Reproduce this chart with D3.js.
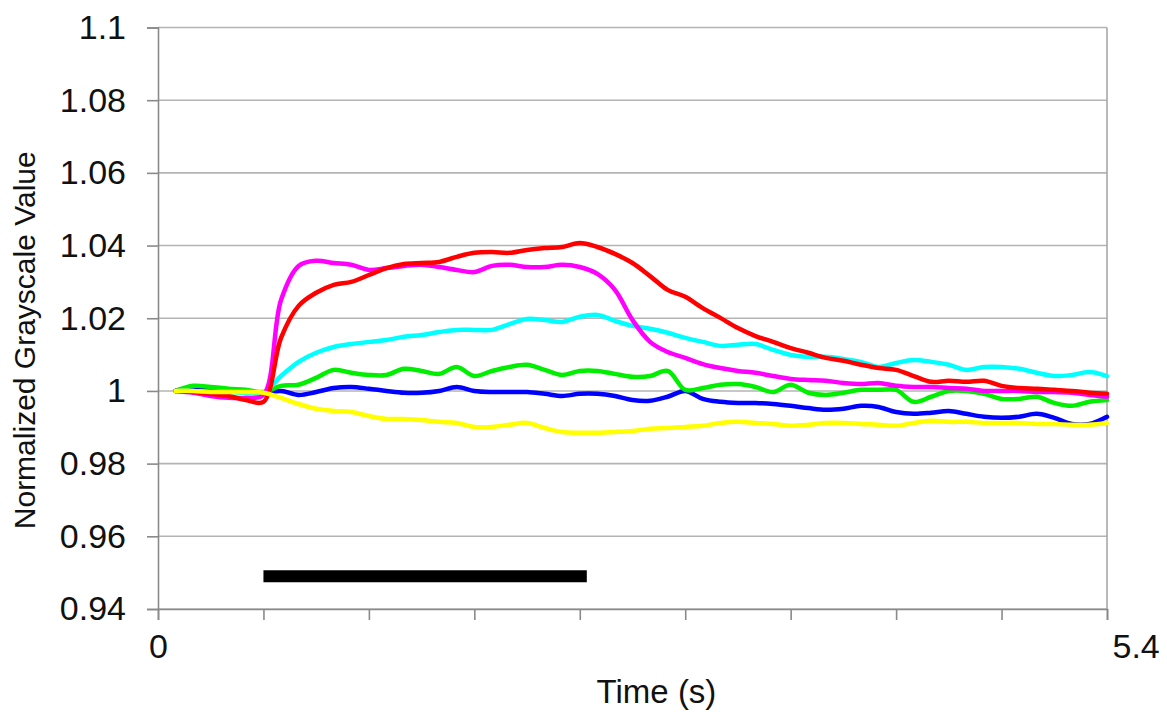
<!DOCTYPE html>
<html>
<head>
<meta charset="utf-8">
<script src="https://cdn.jsdelivr.net/npm/d3@7"></script>
<style>
  html, body { margin: 0; padding: 0; background: #fff; }
  svg { display: block; }
  text { font-family: "Liberation Sans", Arial, Helvetica, sans-serif; fill: #111; }
</style>
</head>
<body>
<svg id="chart" width="1167" height="715"></svg>
<script>
// Sample times (s)
const time = d3.range(1, 55).map(i => +(i * 0.1).toFixed(1));

// Normalized grayscale traces, one value per sample time
const redValues = [1.0000,0.9997,0.9992,0.9986,0.9975,0.9970,1.0146,1.0234,1.0270,1.0292,
  1.0300,1.0319,1.0338,1.0349,1.0352,1.0355,1.0369,1.0380,1.0382,1.0380,
  1.0388,1.0393,1.0396,1.0407,1.0396,1.0377,1.0352,1.0316,1.0278,1.0259,
  1.0228,1.0201,1.0173,1.0151,1.0135,1.0118,1.0105,1.0091,1.0083,1.0072,
  1.0063,1.0058,1.0041,1.0025,1.0028,1.0025,1.0028,1.0014,1.0008,1.0006,
  1.0003,1.0000,0.9995,0.9992];
const magentaValues = [1.0000,0.9995,0.9986,0.9981,0.9981,0.9989,1.0250,1.0344,1.0358,1.0352,
  1.0347,1.0333,1.0338,1.0344,1.0347,1.0341,1.0333,1.0327,1.0344,1.0347,
  1.0341,1.0341,1.0347,1.0341,1.0322,1.0278,1.0195,1.0135,1.0107,1.0091,
  1.0074,1.0063,1.0055,1.0050,1.0041,1.0033,1.0030,1.0028,1.0022,1.0019,
  1.0022,1.0014,1.0011,1.0011,1.0008,1.0006,1.0000,1.0000,1.0000,0.9997,
  0.9997,0.9995,0.9989,0.9984];
const cyanValues = [1.0000,1.0000,0.9997,0.9997,0.9995,0.9995,1.0041,1.0080,1.0105,1.0121,
  1.0129,1.0135,1.0140,1.0149,1.0154,1.0162,1.0168,1.0168,1.0168,1.0184,
  1.0198,1.0195,1.0190,1.0204,1.0209,1.0193,1.0179,1.0171,1.0160,1.0146,
  1.0135,1.0124,1.0127,1.0129,1.0113,1.0099,1.0094,1.0094,1.0088,1.0080,
  1.0066,1.0077,1.0085,1.0080,1.0072,1.0058,1.0066,1.0066,1.0061,1.0050,
  1.0041,1.0044,1.0052,1.0041];
const greenValues = [1.0000,1.0014,1.0011,1.0006,1.0003,0.9997,1.0014,1.0017,1.0036,1.0058,
  1.0050,1.0044,1.0044,1.0061,1.0055,1.0047,1.0066,1.0041,1.0055,1.0066,
  1.0072,1.0058,1.0044,1.0055,1.0055,1.0047,1.0039,1.0041,1.0055,1.0003,
  1.0008,1.0017,1.0019,1.0011,0.9997,1.0017,0.9995,0.9989,0.9995,1.0003,
  1.0003,1.0003,0.9970,0.9984,1.0000,1.0000,0.9992,0.9978,0.9978,0.9984,
  0.9967,0.9959,0.9970,0.9975];
const blueValues = [1.0000,1.0011,1.0006,1.0000,0.9997,0.9995,1.0000,0.9989,0.9997,1.0008,
  1.0011,1.0006,1.0000,0.9995,0.9995,1.0000,1.0011,1.0000,0.9997,0.9997,
  0.9997,0.9992,0.9986,0.9992,0.9992,0.9986,0.9975,0.9973,0.9984,1.0000,
  0.9978,0.9970,0.9967,0.9967,0.9964,0.9959,0.9953,0.9948,0.9951,0.9959,
  0.9956,0.9942,0.9937,0.9940,0.9945,0.9937,0.9929,0.9926,0.9929,0.9937,
  0.9926,0.9909,0.9909,0.9929];
const yellowValues = [1.0000,1.0000,0.9997,0.9997,0.9997,0.9995,0.9981,0.9964,0.9951,0.9945,
  0.9942,0.9931,0.9923,0.9923,0.9920,0.9915,0.9912,0.9901,0.9901,0.9907,
  0.9912,0.9898,0.9887,0.9885,0.9885,0.9887,0.9890,0.9896,0.9898,0.9901,
  0.9904,0.9912,0.9915,0.9912,0.9909,0.9904,0.9907,0.9912,0.9912,0.9909,
  0.9907,0.9904,0.9912,0.9918,0.9915,0.9915,0.9912,0.9912,0.9912,0.9909,
  0.9909,0.9907,0.9907,0.9912];

// Stimulus period (s) and the level at which its bar is drawn
const stimulusPeriod = [0.6, 2.44];
const stimulusLevel = 0.949;

// Axis ticks
const yTicks = [0.94, 0.96, 0.98, 1, 1.02, 1.04, 1.06, 1.08, 1.1];
const xTicks = d3.range(0, 10).map(i => +(i * 0.6).toFixed(1));
const xTickLabels = { 0: "0", 5.4: "5.4" };

const series = [
  { name: "blue", color: "#0000ff", values: blueValues },
  { name: "green", color: "#00ee00", values: greenValues },
  { name: "cyan", color: "#00ffff", values: cyanValues },
  { name: "magenta", color: "#ff00ff", values: magentaValues },
  { name: "red", color: "#ff0000", values: redValues },
  { name: "yellow", color: "#ffff00", values: yellowValues }
];

const svg = d3.select("#chart");
const margin = { left: 158, right: 60, top: 27.5, bottom: 106 };
const W = 1167, H = 715;

const x = d3.scaleLinear().domain([0, 5.4]).range([margin.left, W - margin.right]);
const y = d3.scaleLinear().domain([0.94, 1.1]).range([H - margin.bottom, margin.top]);

// Horizontal gridlines
svg.append("g")
  .selectAll("line")
  .data(yTicks)
  .join("line")
  .attr("x1", x(0)).attr("x2", x(5.4))
  .attr("y1", d => y(d)).attr("y2", d => y(d))
  .attr("stroke", "#b4b4b4").attr("stroke-width", 1.6);

// Right border of the plot area
svg.append("line")
  .attr("x1", x(5.4)).attr("x2", x(5.4))
  .attr("y1", y(1.1)).attr("y2", y(0.94))
  .attr("stroke", "#a8a8a8").attr("stroke-width", 1.6);

// Y axis
const yAxis = svg.append("g")
  .attr("transform", `translate(${x(0)},0)`)
  .call(d3.axisLeft(y).tickValues(yTicks).tickSize(11).tickPadding(21)
    .tickFormat(d => String(+d.toFixed(2))));
yAxis.select(".domain").attr("stroke", "#8a8a8a").attr("stroke-width", 1.6);
yAxis.selectAll(".tick line").attr("stroke", "#8a8a8a").attr("stroke-width", 1.6);
yAxis.selectAll(".tick text")
  .attr("font-size", 34).attr("fill", "#111")
  .attr("font-family", "'Liberation Sans', Arial, sans-serif");

// X axis
const xAxis = svg.append("g")
  .attr("transform", `translate(0,${y(0.94)})`)
  .call(d3.axisBottom(x).tickValues(xTicks).tickSize(11).tickPadding(14)
    .tickFormat(d => xTickLabels[d] || ""));
xAxis.select(".domain").attr("stroke", "#8a8a8a").attr("stroke-width", 1.6);
xAxis.selectAll(".tick line").attr("stroke", "#8a8a8a").attr("stroke-width", 1.6);
xAxis.selectAll(".tick text")
  .attr("font-size", 34).attr("fill", "#111")
  .attr("font-family", "'Liberation Sans', Arial, sans-serif")
  .attr("text-anchor", d => d === 5.4 ? "start" : "middle")
  .attr("dx", d => d === 5.4 ? 5 : 0);

// Axis titles
svg.append("text")
  .attr("x", (x(0) + x(5.4)) / 2 + 24).attr("y", 703)
  .attr("text-anchor", "middle")
  .attr("font-size", 33)
  .text("Time (s)");

svg.append("text")
  .attr("transform", `translate(35,${(y(0.94) + y(1.1)) / 2 + 22}) rotate(-90)`)
  .attr("text-anchor", "middle")
  .attr("font-size", 30)
  .text("Normalized Grayscale Value");

// Traces
const line = d3.line()
  .x((d, i) => x(time[i]))
  .y(d => y(d))
  .curve(d3.curveCatmullRom.alpha(0.5));

svg.append("g")
  .selectAll("path")
  .data(series)
  .join("path")
  .attr("d", d => line(d.values))
  .attr("fill", "none")
  .attr("stroke", d => d.color)
  .attr("stroke-width", 4.5)
  .attr("stroke-linejoin", "round")
  .attr("stroke-linecap", "round");

// Stimulus bar
svg.append("line")
  .attr("x1", x(stimulusPeriod[0])).attr("x2", x(stimulusPeriod[1]))
  .attr("y1", y(stimulusLevel)).attr("y2", y(stimulusLevel))
  .attr("stroke", "#000").attr("stroke-width", 12);
</script>
</body>
</html>
